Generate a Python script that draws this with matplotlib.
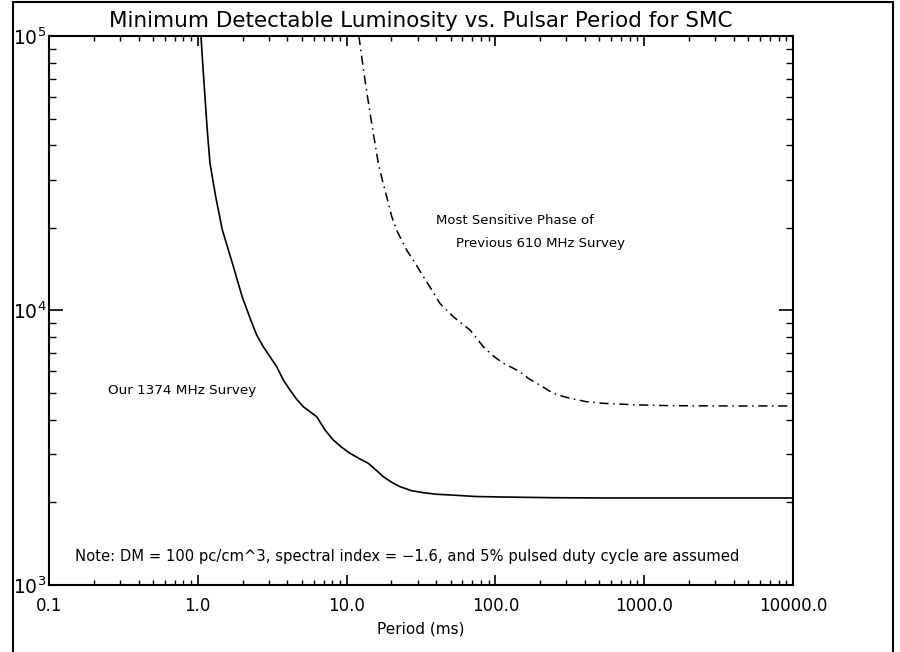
import numpy as np
import matplotlib
matplotlib.use("Agg")
import matplotlib.pyplot as plt
from matplotlib.patches import Rectangle
from matplotlib.ticker import LogLocator, FixedLocator, FixedFormatter, NullFormatter

# Our 1374 MHz survey (period in ms, luminosity limit)
p_ours = [1.051, 1.079, 1.118, 1.158, 1.208, 1.319, 1.461, 1.706, 1.991, 2.27,
          2.487, 2.756, 3.056, 3.391, 3.754, 4.165, 4.621, 5.117, 5.675, 6.297,
          7.157, 8.138, 9.270, 10.54, 12.31, 13.99, 15.94, 17.65, 20.10, 22.86,
          27.39, 32.78, 40.33, 49.53, 73.0, 107, 233, 505, 10000]
l_ours = [1.0e5, 7.95e4, 6.01e4, 4.55e4, 3.44e4, 2.60e4, 1.97e4, 1.49e4, 1.12e4, 9235,
          8142, 7382, 6787, 6242, 5582, 5133, 4748, 4462, 4279, 4104,
          3671, 3375, 3174, 3019, 2877, 2776, 2609, 2481, 2366, 2281,
          2205, 2169, 2140, 2128, 2101, 2092, 2080, 2075, 2075]

# previous 610 MHz survey, most sensitive phase
p_prev = [12.1, 12.63, 13.30, 13.99, 14.75, 15.52, 16.33, 17.38, 18.60, 20.10,
          21.91, 25.35, 28.83, 32.78, 37.33, 42.44, 52.13, 67.5, 74.85, 82.9,
          96.8, 113.0, 131.9, 146.3, 166.4, 189.5, 215.4, 245, 279, 317,
          411, 531, 890, 1491, 3231, 10000]
l_prev = [1.0e5, 8.41e4, 6.91e4, 5.76e4, 4.81e4, 4.07e4, 3.44e4, 2.99e4, 2.60e4, 2.20e4,
          1.94e4, 1.66e4, 1.49e4, 1.33e4, 1.19e4, 1.06e4, 9.49e3, 8.49e3, 7.92e3, 7.38e3,
          6.83e3, 6.42e3, 6.16e3, 5.98e3, 5.66e3, 5.43e3, 5.21e3, 4.99e3, 4.88e3, 4.79e3,
          4.65e3, 4.59e3, 4.53e3, 4.50e3, 4.49e3, 4.49e3]

xticks = [0.1, 1.0, 10.0, 100.0, 1000.0, 10000.0]
xlabels = ["0.1", "1.0", "10.0", "100.0", "1000.0", "10000.0"]

fig = plt.figure(figsize=(9, 6.52), dpi=100)
ax = fig.add_axes([0.0544, 0.1028, 0.8267, 0.842])

# outer frame like the IDL plot window
fig.patches.append(Rectangle((13 / 900, -0.02), 880 / 900, 1 - 2 / 652 + 0.02,
                             transform=fig.transFigure, fill=False, lw=1.5, ec="black"))

ax.plot(p_ours, l_ours, color="black", lw=1.2)
ax.plot(p_prev, l_prev, color="black", lw=1.1, dashes=(6, 3, 1, 3))

ax.set_xscale("log")
ax.set_yscale("log")
ax.set_xlim(0.1, 10000)
ax.set_ylim(1e3, 1e5)

ax.xaxis.set_major_locator(FixedLocator(xticks))
ax.xaxis.set_major_formatter(FixedFormatter(xlabels))
ax.xaxis.set_minor_locator(LogLocator(base=10, subs=np.arange(2, 10), numticks=20))
ax.xaxis.set_minor_formatter(NullFormatter())
ax.yaxis.set_minor_locator(LogLocator(base=10, subs=np.arange(2, 10), numticks=20))
ax.yaxis.set_minor_formatter(NullFormatter())

ax.tick_params(axis="x", which="major", direction="in", length=7, width=1.2,
               top=True, labelsize=12, pad=9)
ax.tick_params(axis="x", which="minor", direction="in", length=3.5, width=1.0, top=True)
ax.tick_params(axis="y", which="major", direction="in", length=10, width=1.2,
               right=True, labelsize=13.5, pad=2)
ax.tick_params(axis="y", which="minor", direction="in", length=5, width=1.0, right=True)
for s in ax.spines.values():
    s.set_linewidth(1.5)

ax.set_title("Minimum Detectable Luminosity vs. Pulsar Period for SMC", fontsize=15.5, pad=6.5)
ax.set_xlabel("Period (ms)", fontsize=11, labelpad=4)

ax.text(39.9, 2.12e4, "Most Sensitive Phase of", fontsize=9.5, va="center")
ax.text(54.3, 1.76e4, "Previous 610 MHz Survey", fontsize=9.5, va="center")
ax.text(0.249, 5.13e3, "Our 1374 MHz Survey", fontsize=9.7, va="center")
ax.text(0.150, 1.265e3, "Note: DM = 100 pc/cm^3, spectral index = \u22121.6, and 5% pulsed duty cycle are assumed",
        fontsize=10.6, va="center")

fig.savefig("out.png", dpi=100)
